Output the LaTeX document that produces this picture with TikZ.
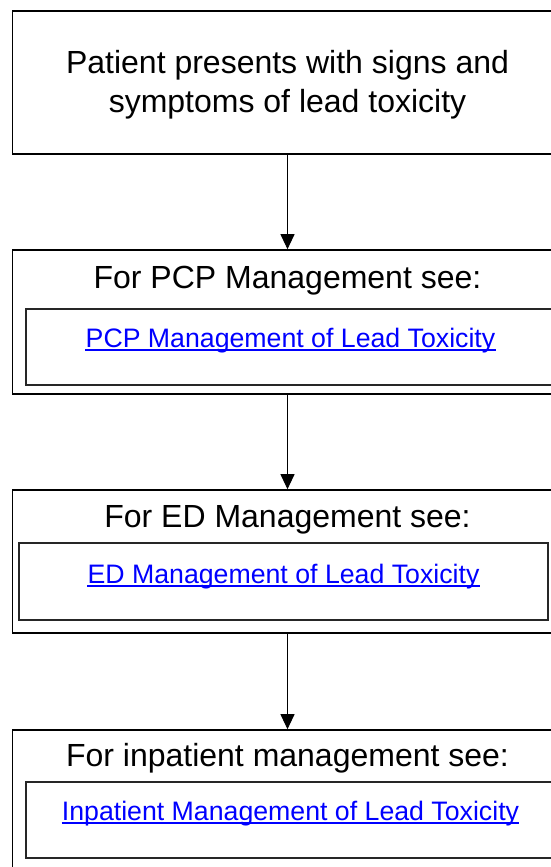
\documentclass[tikz,border=0pt]{standalone}
\usepackage{fontspec}
\setmainfont{Liberation Sans}
\usetikzlibrary{arrows.meta}
\definecolor{linkblue}{RGB}{0,0,255}
\tikzset{
  outerbox/.style={draw=black, line width=1.6pt, inner sep=0pt, minimum width=550pt},
  innerbox/.style={draw=black!85, line width=1.3pt, inner sep=0pt, minimum width=529pt},
  title/.style={inner sep=0pt, anchor=base, font=\fontsize{32}{38}\selectfont},
  linktext/.style={inner sep=0pt, anchor=base, text=linkblue, font=\fontsize{26.7}{32}\selectfont},
  uline/.style={draw=linkblue, line width=1.5pt},
  arr/.style={draw=black, line width=1pt, -{Triangle[length=15pt,width=14pt]}}
}
\begin{document}
\begin{tikzpicture}[x=1pt,y=-1pt]
\useasboundingbox (0,0) rectangle (551,867);
\clip (0,0) rectangle (551,867);
% boxes
\node[outerbox, minimum height=143pt] (b1) at (287.5,82.5) {};
\node[outerbox, minimum height=144pt] (b2) at (287.5,322) {};
\node[innerbox, minimum height=76pt] (i2) at (290.5,347) {};
\node[outerbox, minimum height=143pt] (b3) at (287.5,561.5) {};
\node[innerbox, minimum height=77pt] (i3) at (283.5,581.5) {};
\node[outerbox, minimum height=143pt] (b4) at (287.5,801.5) {};
\node[innerbox, minimum height=76pt] (i4) at (290.5,820) {};
% texts
\node[title] (t1a) at (287.5,74) {Patient presents with signs and};
\node[title] (t1b) at (287.5,112) {symptoms of lead toxicity};
\node[title] (t2) at (287.5,288) {For PCP Management see:};
\node[linktext] (l2) at (290.5,347) {PCP Management of Lead Toxicity};
\node[title] (t3) at (287.5,527) {For ED Management see:};
\node[linktext] (l3) at (283.5,583) {ED Management of Lead Toxicity};
\node[title] (t4) at (287.5,766) {For inpatient management see:};
\node[linktext] (l4) at (290.5,820) {Inpatient Management of Lead Toxicity};
% underlines
\draw[uline] ([yshift=-3pt]l2.base west) -- ([yshift=-3pt]l2.base east);
\draw[uline] ([yshift=-3pt]l3.base west) -- ([yshift=-3pt]l3.base east);
\draw[uline] ([yshift=-3pt]l4.base west) -- ([yshift=-3pt]l4.base east);
% arrows
\draw[arr] (b1.south) -- (b2.north);
\draw[arr] (b2.south) -- (b3.north);
\draw[arr] (b3.south) -- (b4.north);
\end{tikzpicture}
\end{document}
